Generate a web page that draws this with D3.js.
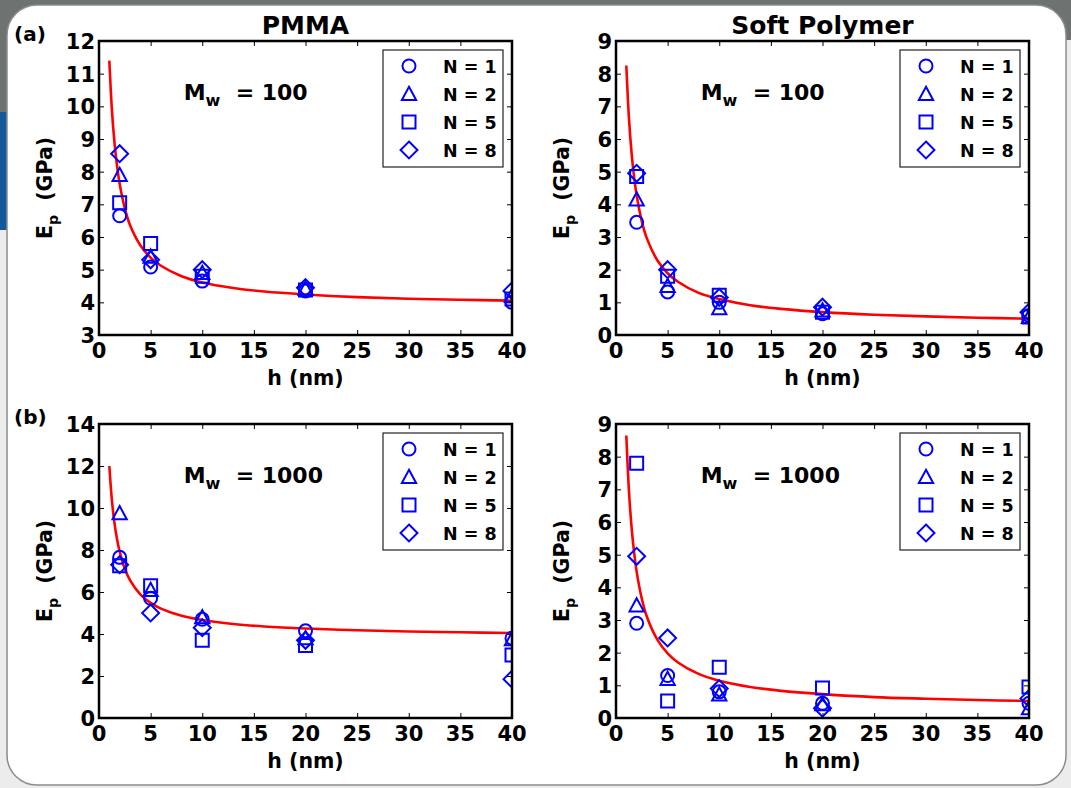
<!DOCTYPE html>
<html>
<head>
<meta charset="utf-8">
<script src="https://cdn.jsdelivr.net/npm/d3@7"></script>
<style>
  body { margin: 0; background: #ececec; }
  svg { display: block; }
</style>
</head>
<body>
<script>
var width  = 1071;
var height = 788;

// measured thicknesses
var hValues = [2, 5, 10, 20, 40];
var seriesNames = ['N = 1', 'N = 2', 'N = 5', 'N = 8'];
var xTicks = [0, 5, 10, 15, 20, 25, 30, 35, 40];

// rows: N = 1, 2, 5, 8
var pmmaMw100 = [
  [6.65, 5.08, 4.65, 4.35, 4.00],
  [7.90, 5.40, 4.90, 4.42, 4.20],
  [7.05, 5.80, 4.80, 4.38, 4.10],
  [8.55, 5.30, 5.00, 4.45, 4.35]
];
var softMw100 = [
  [3.45, 1.32, 1.00, 0.65, 0.60],
  [4.15, 1.50, 0.82, 0.75, 0.55],
  [4.85, 1.80, 1.22, 0.70, 0.55],
  [4.95, 2.00, 1.15, 0.85, 0.70]
];
var pmmaMw1000 = [
  [7.65, 5.70, 4.70, 4.15, 3.80],
  [9.75, 6.10, 4.80, 3.80, 3.75],
  [7.25, 6.30, 3.70, 3.45, 3.00],
  [7.30, 5.00, 4.30, 3.70, 1.85]
];
var softMw1000 = [
  [2.90, 1.30, 0.80, 0.45, 0.45],
  [3.45, 1.20, 0.72, 0.42, 0.30],
  [7.80, 0.52, 1.55, 0.92, 0.95],
  [4.95, 2.45, 0.90, 0.30, 0.60]
];

// red fit curves
var fitH = [1, 1.25, 1.5, 1.75, 2, 2.5, 3, 4, 5, 6, 8, 10, 13, 16, 20, 25, 30, 35, 40];
var fitPmma100  = [11.40, 9.89, 8.89, 8.17, 7.63, 6.88, 6.37, 5.75, 5.37, 5.12, 4.80, 4.61, 4.44, 4.33, 4.24, 4.16, 4.11, 4.08, 4.05];
var fitSoft100  = [8.25, 6.66, 5.60, 4.84, 4.28, 3.48, 2.95, 2.29, 1.89, 1.63, 1.29, 1.10, 0.91, 0.80, 0.70, 0.62, 0.57, 0.53, 0.50];
var fitPmma1000 = [12.00, 10.37, 9.28, 8.51, 7.93, 7.11, 6.57, 5.89, 5.48, 5.21, 4.87, 4.67, 4.48, 4.36, 4.26, 4.18, 4.12, 4.08, 4.05];
var fitSoft1000 = [8.65, 6.98, 5.87, 5.08, 4.48, 3.65, 3.09, 2.40, 1.98, 1.70, 1.35, 1.14, 0.95, 0.83, 0.73, 0.64, 0.59, 0.55, 0.52];

var yTicksPmma100  = [3, 4, 5, 6, 7, 8, 9, 10, 11, 12];
var yTicksSoft     = [0, 1, 2, 3, 4, 5, 6, 7, 8, 9];
var yTicksPmma1000 = [0, 2, 4, 6, 8, 10, 12, 14];

var panels = [
  { id: 'a1', left:  99, top:  41, yDom: [3, 12], yTicks: yTicksPmma100,  pts: pmmaMw100,  fit: fitPmma100,  mw: '100',  title: 'PMMA' },
  { id: 'a2', left: 616, top:  41, yDom: [0, 9],  yTicks: yTicksSoft,     pts: softMw100,  fit: fitSoft100,  mw: '100',  title: 'Soft Polymer' },
  { id: 'b1', left:  99, top: 424, yDom: [0, 14], yTicks: yTicksPmma1000, pts: pmmaMw1000, fit: fitPmma1000, mw: '1000' },
  { id: 'b2', left: 616, top: 424, yDom: [0, 9],  yTicks: yTicksSoft,     pts: softMw1000, fit: fitSoft1000, mw: '1000' }
];
var pw = 413, ph = 294;
var font = "'DejaVu Sans', sans-serif";
var blue = '#0000ff';

// marker shapes (matplotlib o ^ s D)
var markers = [
  function(s){ return 'M' + (s * 0.5) + ',0A' + (s * 0.5) + ',' + (s * 0.5) + ' 0 1,1 ' + (-s * 0.5) + ',0A' + (s * 0.5) + ',' + (s * 0.5) + ' 0 1,1 ' + (s * 0.5) + ',0Z'; },
  function(s){ var r = s * 0.55; return 'M0,' + (-r) + 'L' + r + ',' + (r * 0.85) + 'L' + (-r) + ',' + (r * 0.85) + 'Z'; },
  function(s){ var r = s * 0.5; return 'M' + (-r) + ',' + (-r) + 'H' + r + 'V' + r + 'H' + (-r) + 'Z'; },
  function(s){ var r = s * 0.65; return 'M0,' + (-r) + 'L' + r + ',0L0,' + r + 'L' + (-r) + ',0Z'; }
];

var svg = d3.select('body')
            .append('svg')
            .attr('width', width)
            .attr('height', height);

// page frame
svg.append('rect').attr('x', 0).attr('y', 0).attr('width', width).attr('height', 40).attr('fill', '#6e7372');
svg.append('rect').attr('x', 0).attr('y', 0).attr('width', 8).attr('height', 112).attr('fill', '#6e7372');
svg.append('rect').attr('x', 0).attr('y', 112).attr('width', 7).attr('height', 118).attr('fill', '#14599a');
svg.append('rect')
   .attr('x', 7).attr('y', 5).attr('width', 1059).attr('height', 780)
   .attr('rx', 30).attr('fill', '#ffffff')
   .attr('stroke', '#8a8d8c').attr('stroke-width', 1.5);

svg.append('text').attr('x', 14).attr('y', 41).text('(a)')
   .attr('font-family', font).attr('font-weight', 'bold').attr('font-size', '20px');
svg.append('text').attr('x', 14).attr('y', 424).text('(b)')
   .attr('font-family', font).attr('font-weight', 'bold').attr('font-size', '20px');

panels.forEach(function(p){
  var x = d3.scaleLinear().domain([0, 40]).range([0, pw]);
  var y = d3.scaleLinear().domain(p.yDom).range([ph, 0]);
  var g = svg.append('g').attr('transform', 'translate(' + p.left + ',' + p.top + ')');

  g.append('clipPath').attr('id', 'clip-' + p.id)
   .append('rect').attr('width', pw).attr('height', ph);

  // ticks inward on all four sides
  var tl = 5;
  g.append('g').call(d3.axisBottom(x).tickValues(xTicks).tickSize(-tl).tickFormat(''))
   .attr('transform', 'translate(0,' + ph + ')');
  g.append('g').call(d3.axisTop(x).tickValues(xTicks).tickSize(-tl).tickFormat(''));
  g.append('g').call(d3.axisLeft(y).tickValues(p.yTicks).tickSize(-tl).tickFormat(''));
  g.append('g').call(d3.axisRight(y).tickValues(p.yTicks).tickSize(-tl).tickFormat(''))
   .attr('transform', 'translate(' + pw + ',0)');
  g.selectAll('.domain').remove();
  g.selectAll('.tick line').attr('stroke', '#000').attr('stroke-width', 1);

  // tick labels
  g.selectAll('.xl').data(xTicks).enter().append('text')
   .attr('x', function(d){ return x(d); }).attr('y', ph + 23)
   .attr('text-anchor', 'middle').text(function(d){ return d; })
   .attr('font-family', font).attr('font-weight', 'bold').attr('font-size', '21px');
  g.selectAll('.yl').data(p.yTicks).enter().append('text')
   .attr('x', -4).attr('y', function(d){ return y(d) + 8; })
   .attr('text-anchor', 'end').text(function(d){ return d; })
   .attr('font-family', font).attr('font-weight', 'bold').attr('font-size', '21px');

  // fit curve
  var line = d3.line()
               .x(function(d){ return x(d[0]); })
               .y(function(d){ return y(d[1]); })
               .curve(d3.curveCatmullRom.alpha(0.5));
  g.append('path')
   .datum(fitH.map(function(h, i){ return [h, p.fit[i]]; }))
   .attr('d', line)
   .attr('fill', 'none').attr('stroke', '#ff0000').attr('stroke-width', 2.6)
   .attr('clip-path', 'url(#clip-' + p.id + ')');

  // data markers
  var mg = g.append('g').attr('clip-path', 'url(#clip-' + p.id + ')');
  p.pts.forEach(function(row, si){
    mg.selectAll('.m' + si).data(row).enter().append('path')
      .attr('transform', function(d, i){ return 'translate(' + x(hValues[i]) + ',' + y(d) + ')'; })
      .attr('d', markers[si](13))
      .attr('fill', 'none').attr('stroke', blue).attr('stroke-width', 2);
  });

  // frame
  g.append('rect').attr('width', pw).attr('height', ph)
   .attr('fill', 'none').attr('stroke', '#000').attr('stroke-width', 2.5);

  // legend
  var lg = g.append('g').attr('transform', 'translate(' + (pw - 129) + ',9)');
  lg.append('rect').attr('width', 120).attr('height', 117)
    .attr('fill', '#fff').attr('stroke', '#222').attr('stroke-width', 1.2);
  seriesNames.forEach(function(name, si){
    var yy = 16 + si * 28;
    lg.append('path').attr('transform', 'translate(26,' + yy + ')')
      .attr('d', markers[si](13))
      .attr('fill', 'none').attr('stroke', blue).attr('stroke-width', 2);
    lg.append('text').attr('x', 60).attr('y', yy + 7).text(name)
      .attr('font-family', font).attr('font-weight', 'bold').attr('font-size', '17.5px');
  });

  // Mw annotation
  var t = g.append('text').attr('x', x(8.2)).attr('y', 59)
           .attr('font-family', font).attr('font-weight', 'bold').attr('font-size', '22px');
  t.append('tspan').text('M');
  t.append('tspan').attr('dy', 6).attr('font-size', '16px').text('w');
  t.append('tspan').attr('dy', -6).text('\u00a0 = ' + p.mw);

  // axis labels
  g.append('text').attr('x', pw / 2).attr('y', ph + 50)
   .attr('text-anchor', 'middle').text('h (nm)')
   .attr('font-family', font).attr('font-weight', 'bold').attr('font-size', '20.5px');
  var yl = g.append('text')
            .attr('transform', 'translate(-47,' + (ph / 2) + ') rotate(-90)')
            .attr('text-anchor', 'middle')
            .attr('font-family', font).attr('font-weight', 'bold').attr('font-size', '20.5px');
  yl.append('tspan').text('E');
  yl.append('tspan').attr('dy', 6).attr('font-size', '14px').text('p');
  yl.append('tspan').attr('dy', -6).text('\u00a0 (GPa)');

  if (p.title) {
    g.append('text').attr('x', pw / 2).attr('y', -7)
     .attr('text-anchor', 'middle').text(p.title)
     .attr('font-family', font).attr('font-weight', 'bold').attr('font-size', '25px');
  }
});
</script>
</body>
</html>
